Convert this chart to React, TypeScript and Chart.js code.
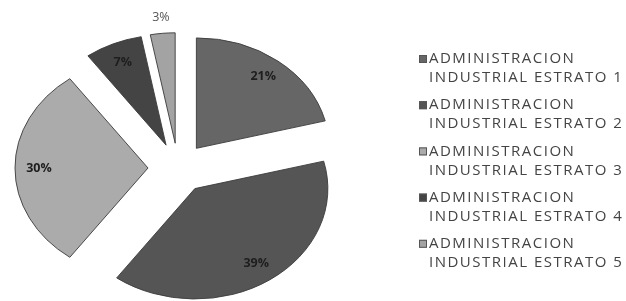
import React, { useEffect, useRef } from "react";
import { Chart, registerables } from "chart.js";

Chart.register(...registerables);

const categories = [
  "ADMINISTRACION INDUSTRIAL ESTRATO 1",
  "ADMINISTRACION INDUSTRIAL ESTRATO 2",
  "ADMINISTRACION INDUSTRIAL ESTRATO 3",
  "ADMINISTRACION INDUSTRIAL ESTRATO 4",
  "ADMINISTRACION INDUSTRIAL ESTRATO 5",
];
const legendLine1 = ["ADMINISTRACION", "ADMINISTRACION", "ADMINISTRACION", "ADMINISTRACION", "ADMINISTRACION"];
const legendLine2 = [
  "INDUSTRIAL ESTRATO 1",
  "INDUSTRIAL ESTRATO 2",
  "INDUSTRIAL ESTRATO 3",
  "INDUSTRIAL ESTRATO 4",
  "INDUSTRIAL ESTRATO 5",
];
const values = [21, 39, 30, 7, 3];
const percentLabels = ["21%", "39%", "30%", "7%", "3%"];
const sliceColors = ["#666666", "#555555", "#ababab", "#444444", "#a3a3a3"];

const TILT = 0.83;
const EXPLODE = 30;
const FONT = "'Open Sans', 'DejaVu Sans', sans-serif";

const tiltPlugin = {
  id: "tilt",
  beforeDatasetDraw(chart: any, args: any) {
    const meta = args.meta;
    const ctx = chart.ctx;
    const first = meta.data[0];
    if (!first) return false;
    ctx.save();
    ctx.translate(first.x, first.y);
    ctx.scale(1, TILT);
    ctx.translate(-first.x, -first.y);
    meta.data.forEach((a: any) => {
      const mid = (a.startAngle + a.endAngle) / 2;
      ctx.save();
      ctx.translate(Math.cos(mid) * EXPLODE, Math.sin(mid) * EXPLODE);
      a.draw(ctx);
      ctx.restore();
    });
    ctx.restore();
    return false;
  },
  afterDatasetsDraw(chart: any) {
    const ctx = chart.ctx;
    const meta = chart.getDatasetMeta(0);
    ctx.save();
    ctx.textAlign = "center";
    ctx.textBaseline = "middle";
    meta.data.forEach((a: any, i: number) => {
      const mid = (a.startAngle + a.endAngle) / 2;
      const small = values[i] < 5;
      const r = small ? a.outerRadius + 19 : a.outerRadius * 0.82;
      const lx = a.x + Math.cos(mid) * (EXPLODE + r);
      const ly = a.y + Math.sin(mid) * (EXPLODE + r) * TILT;
      ctx.font = (small ? "" : "bold ") + "12.5px " + FONT;
      ctx.fillStyle = small ? "#555555" : "#1e1e1e";
      ctx.fillText(percentLabels[i], lx, ly);
    });
    ctx.restore();
  },
  afterDraw(chart: any) {
    const ctx = chart.ctx;
    ctx.save();
    ctx.textBaseline = "middle";
    ctx.textAlign = "left";
    ctx.font = "15px " + FONT;
    (ctx as any).letterSpacing = "1.5px";
    const x0 = 419;
    const y0 = 59;
    const step = 46.2;
    categories.forEach((_, i) => {
      const y = y0 + i * step;
      ctx.fillStyle = sliceColors[i];
      ctx.fillRect(x0, y - 4, 8, 8);
      ctx.strokeStyle = "#555555";
      ctx.lineWidth = 1;
      ctx.strokeRect(x0 + 0.5, y - 3.5, 7, 7);
      ctx.fillStyle = "#444444";
      ctx.fillText(legendLine1[i], x0 + 10, y);
      ctx.fillText(legendLine2[i], x0 + 10, y + 19);
    });
    ctx.restore();
  },
};

export default function App() {
  const ref = useRef<HTMLCanvasElement | null>(null);
  useEffect(() => {
    if (!ref.current) return;
    const chart = new Chart(ref.current, {
      type: "pie",
      data: {
        labels: categories,
        datasets: [
          {
            data: values,
            backgroundColor: sliceColors,
            borderColor: "#3c3c3c",
            borderWidth: 1,
          },
        ],
      },
      options: {
        responsive: false,
        animation: false,
        devicePixelRatio: 1,
        radius: 133,
        layout: { padding: { left: 0, right: 270, top: 35, bottom: 0 } },
        plugins: {
          legend: { display: false },
          tooltip: { enabled: false },
        },
      } as any,
      plugins: [tiltPlugin],
    });
    return () => chart.destroy();
  }, []);
  return (
    <div style={{ position: "absolute", left: 0, top: 0, width: 626, height: 301, background: "#fff" }}>
      <canvas ref={ref} width={626} height={301} style={{ width: 626, height: 301 }} />
    </div>
  );
}
